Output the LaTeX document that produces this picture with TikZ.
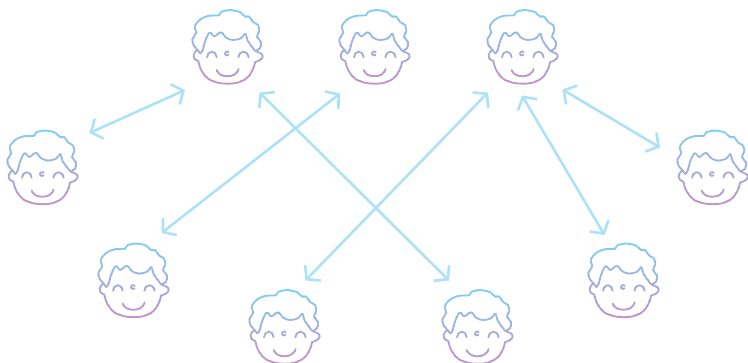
\documentclass[tikz,border=0pt]{standalone}
\usetikzlibrary{arrows.meta}
\definecolor{linkblue}{HTML}{ABE1F9}
\definecolor{facetop}{HTML}{7FD0F6}
\definecolor{facebot}{HTML}{C294C8}
\newcommand{\facestrokes}{%
  % hair outline and ears
  \draw plot[smooth,tension=0.6] coordinates {(52,183)(42,178)(38,166)(44,154)(50,150)(39,138)(34,118)(46,98)(41,80)(58,58)(86,47)(113,46)(122,35)(150,30)(178,37)(192,50)(205,50)(216,66)(230,74)(235,92)(228,110)(240,126)(237,145)(224,153)(240,160)(245,170)(236,181)(222,186)};
  % jaw
  \draw plot[smooth,tension=0.6] coordinates {(52,183)(60,209)(80,235)(110,248)(140,251)(170,248)(200,232)(217,205)(222,186)};
  % fringe
  \draw plot[smooth,tension=0.6] coordinates {(50,150)(58,160)(65,150)(73,122)(86,98)(100,109)(120,97)(135,113)(155,120)(180,115)(193,101)(200,122)(222,152)};
  % eyes
  \draw (78,172) arc[start angle=180,end angle=0,x radius=14.5,y radius=-17];
  \draw (172,172) arc[start angle=180,end angle=0,x radius=15.5,y radius=-17];
  % nose
  \draw (142,165) arc[start angle=50,end angle=330,radius=6];
  % mouth
  \draw (107,210) .. controls (114,235) and (166,236) .. (173,207);
}
\tikzset{
  link/.style={draw=linkblue,line width=2.6pt,{Straight Barb[length=9pt,width=22pt,line width=2.6pt]}-{Straight Barb[length=9pt,width=22pt,line width=2.6pt]}},
  facepoint/.style={inner sep=0pt,minimum size=1pt},
  face/.pic={
    \begin{scope}[x=0.3333pt,y=-0.3333pt,shift={(-141,-141)},line width=1.8pt,line cap=round,line join=round]
      \foreach \i in {0,...,17}{
        \pgfmathsetmacro{\mixv}{min(100,100*\i/17)}
        \colorlet{bandc}{facebot!\mixv!facetop}
        \begin{scope}
          \clip (0,{20+\i*13}) rectangle (290,{20+(\i+1)*13+1});
          \begin{scope}[draw=bandc]
            \facestrokes
          \end{scope}
        \end{scope}
      }
    \end{scope}
  }
}
\begin{document}
\begin{tikzpicture}[x=1pt,y=-1pt]
\useasboundingbox (0,0) rectangle (748,362);
\foreach \nm/\px/\py in {f1/228/47,f2/375/47,f3/523/47,f4/43/167.5,f5/713/167.5,f6/134/280.5,f7/624/280.5,f8/285/327,f9/478/327}{
  \pic at (\px,\py) {face};
  \node[facepoint] (\nm) at (\px,\py) {};
}
\coordinate (a1) at (89.5,133);  \coordinate (b1) at (185,90);
\coordinate (a2) at (161.5,233); \coordinate (b2) at (340,93.5);
\coordinate (a3) at (259.5,92.5);  \coordinate (b3) at (449,280.5);
\coordinate (a4) at (305.5,280.5); \coordinate (b4) at (488,92.5);
\coordinate (a5) at (522,95.5);  \coordinate (b5) at (604.5,235);
\coordinate (a6) at (562.5,89.5);  \coordinate (b6) at (660,147.5);
\foreach \k in {1,...,6}{ \draw[link] (a\k) -- (b\k); }
\end{tikzpicture}
\end{document}
